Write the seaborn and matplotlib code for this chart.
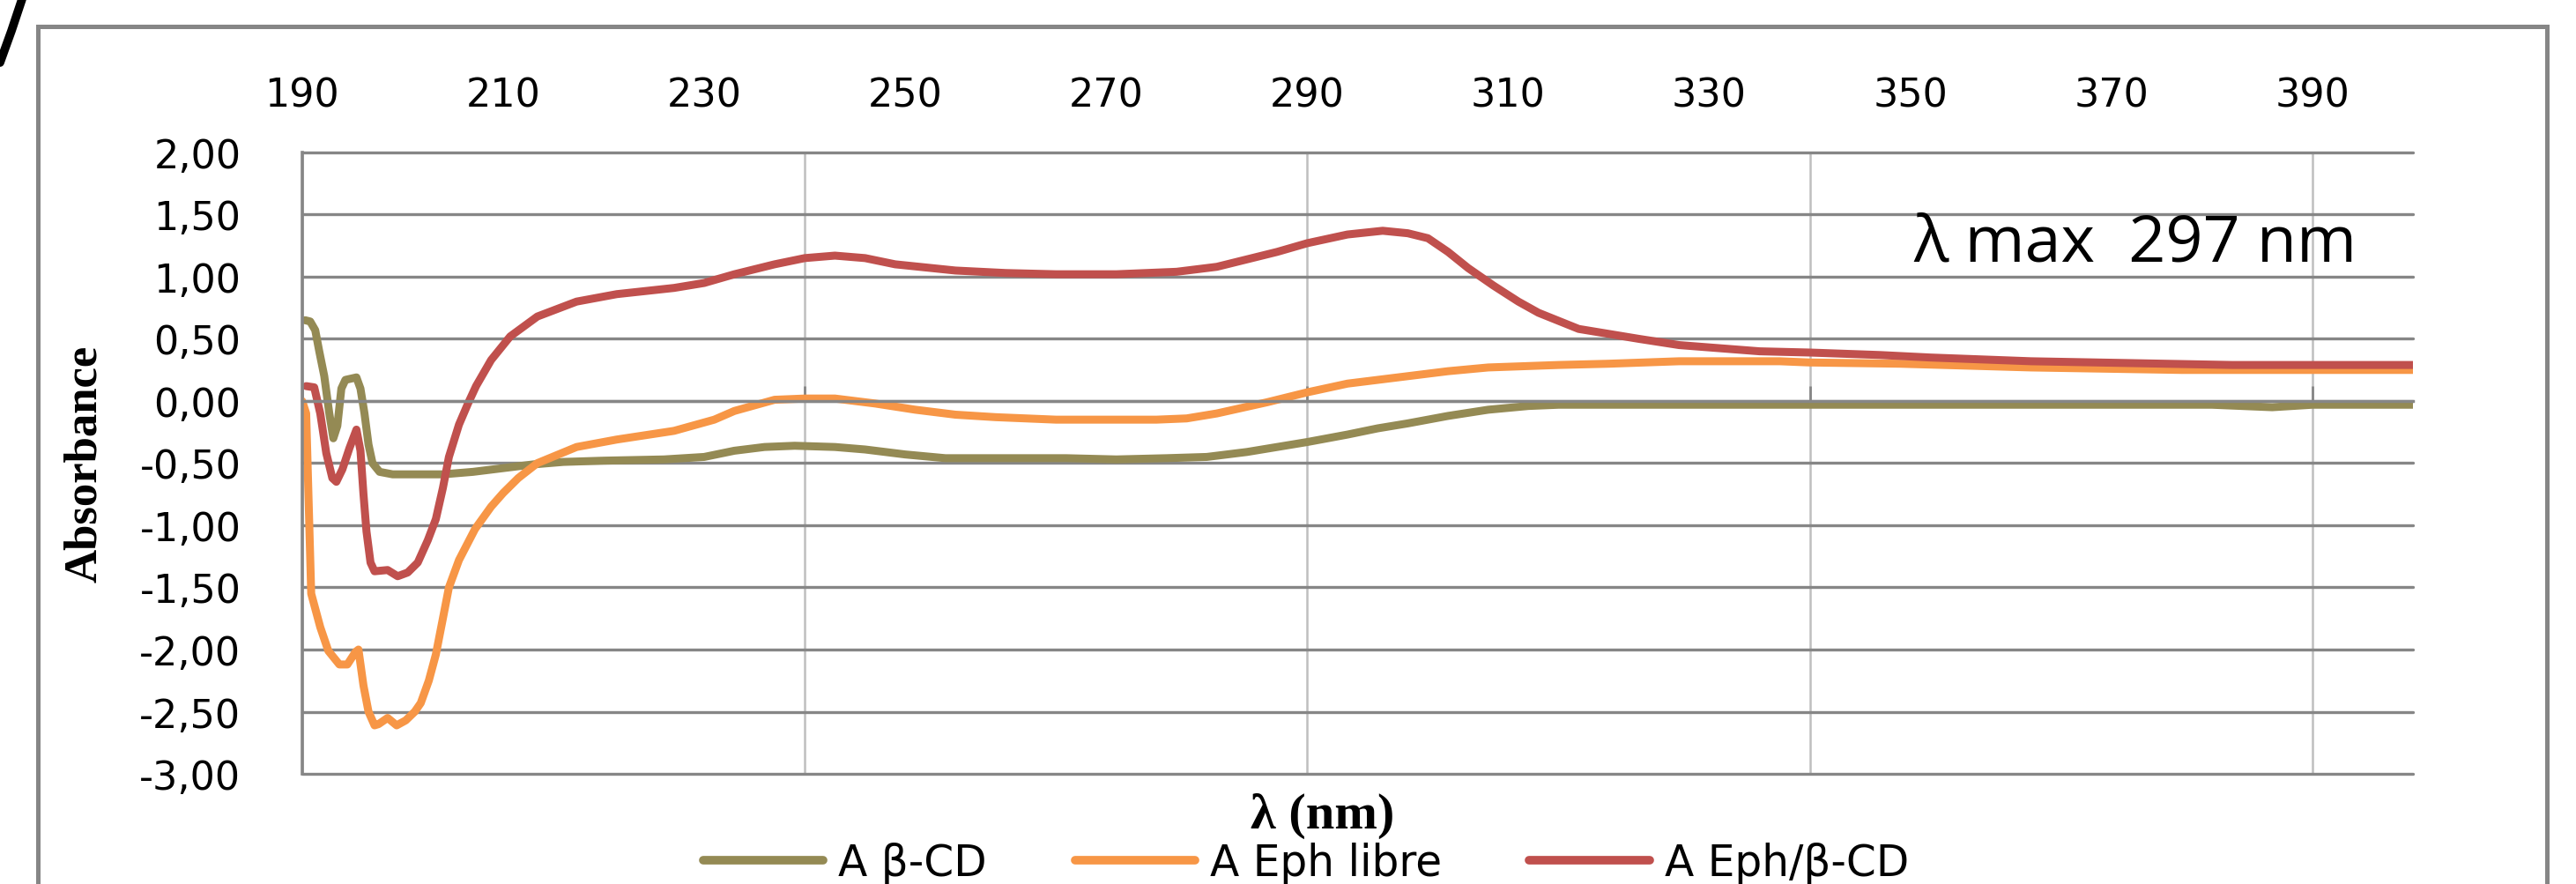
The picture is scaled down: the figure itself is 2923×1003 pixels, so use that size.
import pandas as pd
import matplotlib
matplotlib.use("Agg")
import matplotlib.pyplot as plt
import matplotlib.ticker as mticker
from matplotlib.lines import Line2D
from matplotlib.patches import Rectangle
import seaborn as sns

# A beta-CD
wl_bcd = [190.3, 190.8, 191.3, 191.7, 192.2, 192.7, 193.1, 193.5, 193.9, 194.3, 195.4, 195.8,
          196.2, 196.6, 197.0, 197.7, 199.0, 204.0, 207.0, 210.0, 213.0, 216.0, 220.0, 226.0,
          230.0, 233.0, 236.0, 239.0, 243.0, 246.0, 250.0, 254.0, 260.0, 266.0, 271.0, 276.0,
          280.0, 284.0, 287.0, 290.0, 294.0, 297.0, 300.0, 304.0, 308.0, 312.0, 315.0, 330.0,
          345.0, 360.0, 380.0, 386.0, 390.0, 400.0]
abs_bcd = [0.65, 0.64, 0.57, 0.40, 0.20, -0.10, -0.30, -0.20, 0.10, 0.17, 0.19, 0.10,
           -0.10, -0.35, -0.50, -0.57, -0.59, -0.59, -0.57, -0.54, -0.51, -0.49, -0.48, -0.47,
           -0.45, -0.40, -0.37, -0.36, -0.37, -0.39, -0.43, -0.46, -0.46, -0.46, -0.47, -0.46,
           -0.45, -0.41, -0.37, -0.33, -0.27, -0.22, -0.18, -0.12, -0.07, -0.04, -0.03, -0.03,
           -0.03, -0.03, -0.03, -0.05, -0.03, -0.03]

# A Eph libre
wl_free = [190.0, 190.4, 190.9, 191.8, 192.6, 193.7, 194.5, 195.3, 195.6, 196.1, 196.6, 197.2,
           197.6, 198.5, 199.4, 200.3, 201.2, 201.8, 202.6, 203.3, 204.0, 204.6, 205.6, 207.2,
           208.8, 210.0, 211.5, 213.4, 217.3, 221.3, 227.0, 231.0, 233.0, 237.0, 240.0, 243.0,
           247.0, 251.0, 255.0, 259.0, 265.0, 275.0, 278.0, 281.0, 286.0, 290.0, 294.0, 297.0,
           300.0, 304.0, 308.0, 315.0, 320.0, 327.0, 337.0, 340.0, 349.0, 362.0, 377.0, 400.0]
abs_free = [0.00, -0.10, -1.55, -1.82, -2.01, -2.12, -2.12, -2.02, -2.00, -2.29, -2.50, -2.61,
            -2.60, -2.55, -2.61, -2.57, -2.50, -2.43, -2.25, -2.04, -1.75, -1.50, -1.28, -1.03,
            -0.85, -0.74, -0.62, -0.50, -0.37, -0.31, -0.24, -0.15, -0.08, 0.01, 0.02, 0.02,
            -0.02, -0.07, -0.11, -0.13, -0.15, -0.15, -0.14, -0.10, -0.01, 0.07, 0.14, 0.17,
            0.20, 0.24, 0.27, 0.29, 0.30, 0.32, 0.32, 0.31, 0.30, 0.27, 0.25, 0.25]

# A Eph/beta-CD
wl_cplx = [190.4, 191.2, 191.8, 192.4, 193.0, 193.4, 194.0, 194.7, 195.4, 195.8, 196.1, 196.4,
           196.8, 197.2, 198.5, 199.5, 200.5, 201.5, 202.5, 203.3, 204.0, 204.6, 205.6, 206.5,
           207.3, 208.8, 210.7, 213.4, 217.3, 221.3, 227.0, 230.0, 233.0, 237.0, 240.0, 243.0,
           246.0, 249.0, 255.0, 260.0, 265.0, 271.0, 277.0, 281.0, 284.0, 287.0, 290.0, 294.0,
           297.5, 300.0, 302.0, 304.0, 306.0, 308.5, 311.0, 313.0, 317.0, 323.0, 327.0, 335.0,
           340.0, 347.0, 352.0, 362.0, 382.0, 400.0]
abs_cplx = [0.12, 0.11, -0.10, -0.42, -0.62, -0.65, -0.55, -0.38, -0.23, -0.40, -0.75, -1.05,
            -1.30, -1.37, -1.36, -1.41, -1.38, -1.30, -1.12, -0.95, -0.70, -0.45, -0.19, -0.02,
            0.12, 0.33, 0.52, 0.68, 0.80, 0.86, 0.91, 0.95, 1.02, 1.10, 1.15, 1.17,
            1.15, 1.10, 1.05, 1.03, 1.02, 1.02, 1.04, 1.08, 1.14, 1.20, 1.27, 1.34,
            1.37, 1.35, 1.31, 1.20, 1.07, 0.93, 0.80, 0.71, 0.58, 0.50, 0.45, 0.40,
            0.39, 0.37, 0.35, 0.32, 0.29, 0.29]

series_names = ["A β-CD", "A Eph libre", "A Eph/β-CD"]
series_colors = ["#948A54", "#F79646", "#C0504D"]

df = pd.concat([
    pd.DataFrame({"wl": wl_bcd, "A": abs_bcd, "serie": series_names[0]}),
    pd.DataFrame({"wl": wl_free, "A": abs_free, "serie": series_names[1]}),
    pd.DataFrame({"wl": wl_cplx, "A": abs_cplx, "serie": series_names[2]}),
], ignore_index=True)

sns.set_style("white")
plt.rcParams["font.family"] = ["DejaVu Sans"]
plt.rcParams["text.color"] = "black"
plt.rcParams["xtick.color"] = "black"
plt.rcParams["ytick.color"] = "black"
plt.rcParams["axes.labelcolor"] = "black"

fig = plt.figure(figsize=(29.23, 10.04), dpi=100)
ax = fig.add_axes([0.1173, 0.1245, 0.8194, 0.7022])

sns.lineplot(data=df, x="wl", y="A", hue="serie", hue_order=series_names,
             palette=dict(zip(series_names, series_colors)), linewidth=6.5,
             estimator=None, sort=False, legend=False, ax=ax)

ax.set_xlim(190, 400)
ax.set_ylim(-3, 2)

# x labels every 20 on top, grid every 50
ax.xaxis.remove_overlapping_locs = False
ax.xaxis.set_major_locator(mticker.FixedLocator(list(range(190, 400, 20))))
ax.xaxis.set_minor_locator(mticker.FixedLocator(list(range(190, 400, 50))))
ax.yaxis.set_major_locator(mticker.MultipleLocator(0.5))
ax.yaxis.set_major_formatter(mticker.FuncFormatter(lambda v, p: f"{v:.2f}".replace(".", ",")))

ax.tick_params(axis="x", which="major", top=True, bottom=False, labeltop=True,
               labelbottom=False, length=0, pad=31, labelsize=32)
ax.tick_params(axis="x", which="minor", bottom=True, top=False, direction="in",
               length=12, width=2, color="#868686")
ax.tick_params(axis="y", length=0, pad=50, labelsize=32)

ax.grid(False)
ax.yaxis.grid(True, color="#868686", linewidth=2.4)
ax.xaxis.grid(True, which="minor", color="#BFBFBF", linewidth=1.8)
for gl in ax.yaxis.get_gridlines():
    gl.set_clip_on(False)

for s in ["top", "right"]:
    ax.spines[s].set_visible(False)
ax.spines["left"].set_color("#868686")
ax.spines["left"].set_linewidth(2.6)
ax.spines["bottom"].set_position(("data", 0))
ax.spines["bottom"].set_color("#868686")
ax.spines["bottom"].set_linewidth(2.4)

ax.set_ylabel("Absorbance", family="Liberation Serif", fontweight="bold", fontsize=38)
ax.yaxis.set_label_coords(-0.093, 0.5)
ax.set_xlabel("λ (nm)", family="Liberation Serif", fontweight="bold", fontsize=42)
ax.xaxis.set_label_coords(0.4835, -0.03)

ax.text(350.3, 1.13, "λ max  297 nm", family=["Open Sans", "DejaVu Sans"],
        fontsize=53, ha="left", va="baseline")

handles = [Line2D([], [], color=c, linewidth=7) for c in series_colors]
fig.legend(handles, series_names, loc="center", bbox_to_anchor=(1482 / 2923, 1 - 980 / 1004),
           ncol=3, frameon=False, fontsize=35, handlelength=2.8, handletextpad=0.35,
           columnspacing=2.05, borderpad=0)

# outer chart frame and the stroke cut at the top-left corner
fig.add_artist(Rectangle((43 / 2923, -0.05), (2890 - 43) / 2923, 1.05 - 31 / 1004,
                         transform=fig.transFigure, fill=False, edgecolor="#868686", linewidth=3.6))
fig.add_artist(Line2D([25 / 2923, 13 / 2923, 0.0], [1.0, 1 - 36 / 1004, 1 - 72 / 1004],
                      transform=fig.transFigure, color="black", linewidth=7))

fig.savefig("out.png", dpi=100)
